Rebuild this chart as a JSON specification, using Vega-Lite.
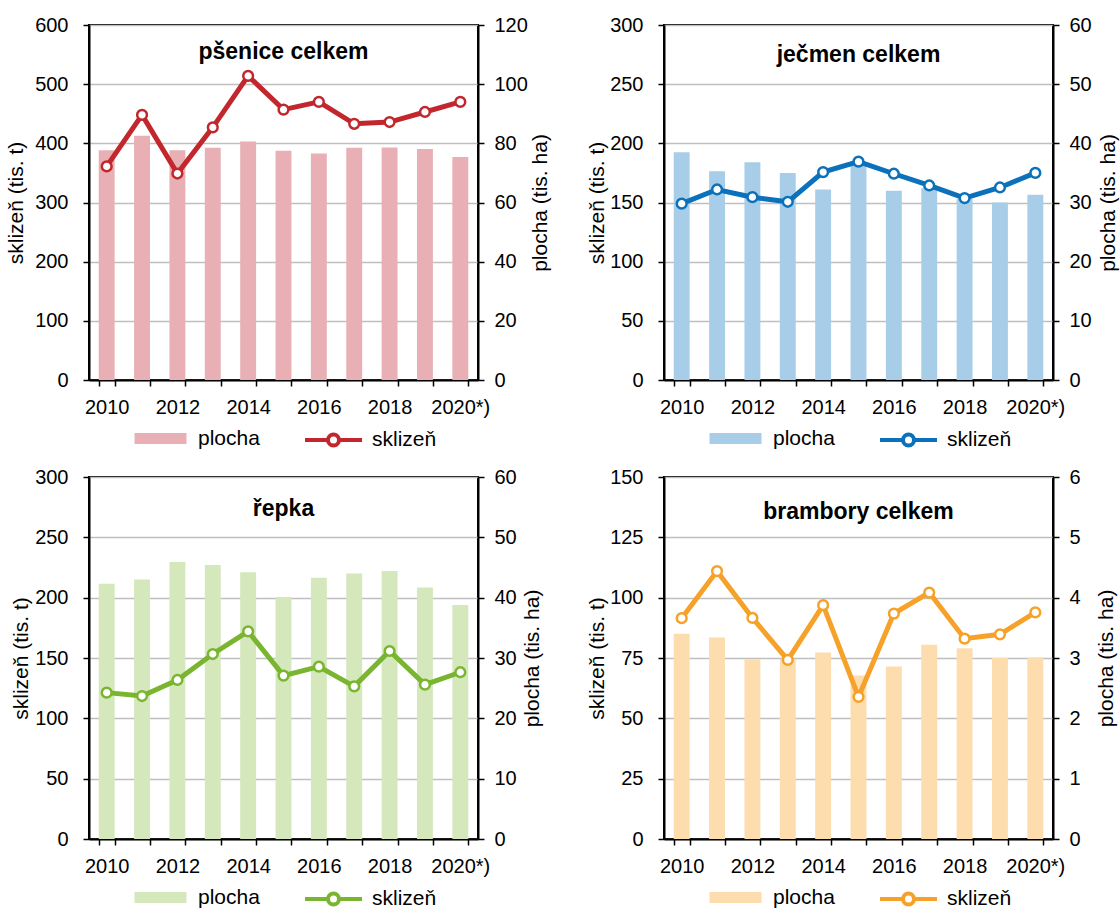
{
  "$schema": "https://vega.github.io/schema/vega-lite/v6.json",
  "padding": {"left": 4, "top": 14, "right": 0, "bottom": 0},
  "background": "white",
  "datasets": {
    "d": [
      {"crop": "pšenice", "rok": "2010", "plocha": 77.7, "sklizen": 361},
      {"crop": "pšenice", "rok": "2011", "plocha": 82.6, "sklizen": 448},
      {"crop": "pšenice", "rok": "2012", "plocha": 77.7, "sklizen": 349},
      {"crop": "pšenice", "rok": "2013", "plocha": 78.5, "sklizen": 427},
      {"crop": "pšenice", "rok": "2014", "plocha": 80.6, "sklizen": 514},
      {"crop": "pšenice", "rok": "2015", "plocha": 77.5, "sklizen": 457},
      {"crop": "pšenice", "rok": "2016", "plocha": 76.6, "sklizen": 470},
      {"crop": "pšenice", "rok": "2017", "plocha": 78.5, "sklizen": 433},
      {"crop": "pšenice", "rok": "2018", "plocha": 78.6, "sklizen": 436},
      {"crop": "pšenice", "rok": "2019", "plocha": 78.1, "sklizen": 453},
      {"crop": "pšenice", "rok": "2020*)", "plocha": 75.4, "sklizen": 470},
      {"crop": "ječmen", "rok": "2010", "plocha": 38.5, "sklizen": 149},
      {"crop": "ječmen", "rok": "2011", "plocha": 35.3, "sklizen": 161},
      {"crop": "ječmen", "rok": "2012", "plocha": 36.8, "sklizen": 154.5},
      {"crop": "ječmen", "rok": "2013", "plocha": 35.0, "sklizen": 150.6},
      {"crop": "ječmen", "rok": "2014", "plocha": 32.2, "sklizen": 175.7},
      {"crop": "ječmen", "rok": "2015", "plocha": 36.5, "sklizen": 184.5},
      {"crop": "ječmen", "rok": "2016", "plocha": 32.0, "sklizen": 174.3},
      {"crop": "ječmen", "rok": "2017", "plocha": 32.4, "sklizen": 164.4},
      {"crop": "ječmen", "rok": "2018", "plocha": 30.6, "sklizen": 153.7},
      {"crop": "ječmen", "rok": "2019", "plocha": 30.0, "sklizen": 162.7},
      {"crop": "ječmen", "rok": "2020*)", "plocha": 31.3, "sklizen": 175},
      {"crop": "řepka", "rok": "2010", "plocha": 42.3, "sklizen": 121.3},
      {"crop": "řepka", "rok": "2011", "plocha": 43.0, "sklizen": 118.5},
      {"crop": "řepka", "rok": "2012", "plocha": 45.9, "sklizen": 131.8},
      {"crop": "řepka", "rok": "2013", "plocha": 45.4, "sklizen": 153.3},
      {"crop": "řepka", "rok": "2014", "plocha": 44.2, "sklizen": 172.1},
      {"crop": "řepka", "rok": "2015", "plocha": 40.1, "sklizen": 135.4},
      {"crop": "řepka", "rok": "2016", "plocha": 43.3, "sklizen": 142.8},
      {"crop": "řepka", "rok": "2017", "plocha": 44.0, "sklizen": 126.5},
      {"crop": "řepka", "rok": "2018", "plocha": 44.4, "sklizen": 155.8},
      {"crop": "řepka", "rok": "2019", "plocha": 41.7, "sklizen": 127.9},
      {"crop": "řepka", "rok": "2020*)", "plocha": 38.8, "sklizen": 138.2},
      {"crop": "brambory", "rok": "2010", "plocha": 3.40, "sklizen": 91.5},
      {"crop": "brambory", "rok": "2011", "plocha": 3.34, "sklizen": 111.0},
      {"crop": "brambory", "rok": "2012", "plocha": 2.98, "sklizen": 91.6},
      {"crop": "brambory", "rok": "2013", "plocha": 2.98, "sklizen": 74.2},
      {"crop": "brambory", "rok": "2014", "plocha": 3.09, "sklizen": 96.9},
      {"crop": "brambory", "rok": "2015", "plocha": 2.71, "sklizen": 58.9},
      {"crop": "brambory", "rok": "2016", "plocha": 2.86, "sklizen": 93.4},
      {"crop": "brambory", "rok": "2017", "plocha": 3.22, "sklizen": 102.1},
      {"crop": "brambory", "rok": "2018", "plocha": 3.16, "sklizen": 83.0},
      {"crop": "brambory", "rok": "2019", "plocha": 3.00, "sklizen": 84.8},
      {"crop": "brambory", "rok": "2020*)", "plocha": 3.01, "sklizen": 93.9}
    ]
  },
  "data": {"name": "d"},
  "columns": 2,
  "bounds": "flush",
  "spacing": {"row": 97, "column": 186},
  "resolve": {
    "scale": {"fill": "independent", "stroke": "independent", "y": "independent"},
    "legend": {"fill": "independent", "stroke": "independent"}
  },
  "concat": [
    {
      "width": 389, "height": 355,
      "title": {"text": "pšenice celkem", "offset": -49},
      "transform": [{"filter": "datum.crop == 'pšenice'"}],
      "encoding": {"x": {"field": "rok", "type": "ordinal", "sort": null, "scale": {"paddingInner": 0.55, "paddingOuter": 0.275}}},
      "layer": [
        {
          "mark": {"type": "bar"},
          "encoding": {
            "y": {"field": "plocha", "type": "quantitative", "scale": {"domain": [0, 120], "nice": false}, "axis": {"orient": "right", "title": "plocha (tis. ha)", "values": [0, 20, 40, 60, 80, 100, 120], "grid": false, "titleAngle": 270, "titleBaseline": "top", "titlePadding": 2}},
            "fill": {"datum": "plocha", "type": "nominal", "scale": {"range": ["#e8b0b4"]}, "legend": {"title": null, "symbolType": "M3.5,-0.55H8.7V0.55H3.5Z", "symbolSize": 400, "labelOffset": 88, "symbolStrokeWidth": 0}}
          }
        },
        {
          "layer": [
            {
              "mark": {"type": "line", "strokeWidth": 5},
              "encoding": {
                "y": {"field": "sklizen", "type": "quantitative", "scale": {"domain": [0, 600], "nice": false}, "axis": {"orient": "left", "title": "sklizeň (tis. t)", "values": [0, 100, 200, 300, 400, 500, 600], "grid": true, "titlePadding": 8, "labelPadding": 15}},
                "stroke": {"datum": "sklizeň", "type": "nominal", "scale": {"range": ["#c1272d"]}, "legend": {"title": null, "symbolType": "M2.5,0H4.8M5.9,0H8.2M4.8,0A0.55,0.55,0,1,1,5.9,0A0.55,0.55,0,1,1,4.8,0", "symbolSize": 400, "labelOffset": 80, "encode": {"symbols": {"update": {"fill": {"value": "white"}, "strokeWidth": {"value": 4}}}}}}
              }
            },
            {
              "mark": {"type": "point", "filled": true, "fill": "white", "stroke": "#c1272d", "strokeWidth": 2.5, "size": 95, "opacity": 1},
              "encoding": {"y": {"field": "sklizen", "type": "quantitative"}}
            }
          ]
        }
      ],
      "resolve": {"scale": {"y": "independent"}}
    },
    {
      "width": 389, "height": 355,
      "title": {"text": "ječmen celkem", "offset": -52},
      "transform": [{"filter": "datum.crop == 'ječmen'"}],
      "encoding": {"x": {"field": "rok", "type": "ordinal", "sort": null, "scale": {"paddingInner": 0.55, "paddingOuter": 0.275}}},
      "layer": [
        {
          "mark": {"type": "bar"},
          "encoding": {
            "y": {"field": "plocha", "type": "quantitative", "scale": {"domain": [0, 60], "nice": false}, "axis": {"orient": "right", "title": "plocha (tis. ha)", "values": [0, 10, 20, 30, 40, 50, 60], "grid": false, "titleAngle": 270, "titleBaseline": "top", "titlePadding": 6}},
            "fill": {"datum": "plocha", "type": "nominal", "scale": {"range": ["#a8cde8"]}, "legend": {"title": null, "symbolType": "M3.5,-0.55H8.7V0.55H3.5Z", "symbolSize": 400, "labelOffset": 88, "symbolStrokeWidth": 0}}
          }
        },
        {
          "layer": [
            {
              "mark": {"type": "line", "strokeWidth": 5},
              "encoding": {
                "y": {"field": "sklizen", "type": "quantitative", "scale": {"domain": [0, 300], "nice": false}, "axis": {"orient": "left", "title": "sklizeň (tis. t)", "values": [0, 50, 100, 150, 200, 250, 300], "grid": true, "titlePadding": 2, "labelPadding": 15}},
                "stroke": {"datum": "sklizeň", "type": "nominal", "scale": {"range": ["#0b71bb"]}, "legend": {"title": null, "symbolType": "M2.5,0H4.8M5.9,0H8.2M4.8,0A0.55,0.55,0,1,1,5.9,0A0.55,0.55,0,1,1,4.8,0", "symbolSize": 400, "labelOffset": 80, "encode": {"symbols": {"update": {"fill": {"value": "white"}, "strokeWidth": {"value": 4}}}}}}
              }
            },
            {
              "mark": {"type": "point", "filled": true, "fill": "white", "stroke": "#0b71bb", "strokeWidth": 2.5, "size": 95, "opacity": 1},
              "encoding": {"y": {"field": "sklizen", "type": "quantitative"}}
            }
          ]
        }
      ],
      "resolve": {"scale": {"y": "independent"}}
    },
    {
      "width": 389, "height": 362,
      "title": {"text": "řepka", "offset": -54},
      "transform": [{"filter": "datum.crop == 'řepka'"}],
      "encoding": {"x": {"field": "rok", "type": "ordinal", "sort": null, "scale": {"paddingInner": 0.55, "paddingOuter": 0.275}}},
      "layer": [
        {
          "mark": {"type": "bar"},
          "encoding": {
            "y": {"field": "plocha", "type": "quantitative", "scale": {"domain": [0, 60], "nice": false}, "axis": {"orient": "right", "title": "plocha (tis. ha)", "values": [0, 10, 20, 30, 40, 50, 60], "grid": false, "titleAngle": 270, "titleBaseline": "top", "titlePadding": 5}},
            "fill": {"datum": "plocha", "type": "nominal", "scale": {"range": ["#d4e8bb"]}, "legend": {"title": null, "symbolType": "M3.5,-0.55H8.7V0.55H3.5Z", "symbolSize": 400, "labelOffset": 88, "symbolStrokeWidth": 0}}
          }
        },
        {
          "layer": [
            {
              "mark": {"type": "line", "strokeWidth": 5},
              "encoding": {
                "y": {"field": "sklizen", "type": "quantitative", "scale": {"domain": [0, 300], "nice": false}, "axis": {"orient": "left", "title": "sklizeň (tis. t)", "values": [0, 50, 100, 150, 200, 250, 300], "grid": true, "titlePadding": 3, "labelPadding": 15}},
                "stroke": {"datum": "sklizeň", "type": "nominal", "scale": {"range": ["#7ab530"]}, "legend": {"title": null, "symbolType": "M2.5,0H4.8M5.9,0H8.2M4.8,0A0.55,0.55,0,1,1,5.9,0A0.55,0.55,0,1,1,4.8,0", "symbolSize": 400, "labelOffset": 80, "encode": {"symbols": {"update": {"fill": {"value": "white"}, "strokeWidth": {"value": 4}}}}}}
              }
            },
            {
              "mark": {"type": "point", "filled": true, "fill": "white", "stroke": "#7ab530", "strokeWidth": 2.5, "size": 95, "opacity": 1},
              "encoding": {"y": {"field": "sklizen", "type": "quantitative"}}
            }
          ]
        }
      ],
      "resolve": {"scale": {"y": "independent"}}
    },
    {
      "width": 389, "height": 362,
      "title": {"text": "brambory celkem", "offset": -57},
      "transform": [{"filter": "datum.crop == 'brambory'"}],
      "encoding": {"x": {"field": "rok", "type": "ordinal", "sort": null, "scale": {"paddingInner": 0.55, "paddingOuter": 0.275}}},
      "layer": [
        {
          "mark": {"type": "bar"},
          "encoding": {
            "y": {"field": "plocha", "type": "quantitative", "scale": {"domain": [0, 6], "nice": false}, "axis": {"orient": "right", "title": "plocha (tis. ha)", "values": [0, 1, 2, 3, 4, 5, 6], "grid": false, "titleAngle": 270, "titleBaseline": "top", "titlePadding": 15}},
            "fill": {"datum": "plocha", "type": "nominal", "scale": {"range": ["#fddcae"]}, "legend": {"title": null, "symbolType": "M3.5,-0.55H8.7V0.55H3.5Z", "symbolSize": 400, "labelOffset": 88, "symbolStrokeWidth": 0}}
          }
        },
        {
          "layer": [
            {
              "mark": {"type": "line", "strokeWidth": 5},
              "encoding": {
                "y": {"field": "sklizen", "type": "quantitative", "scale": {"domain": [0, 150], "nice": false}, "axis": {"orient": "left", "title": "sklizeň (tis. t)", "values": [0, 25, 50, 75, 100, 125, 150], "grid": true, "titlePadding": 2, "labelPadding": 15}},
                "stroke": {"datum": "sklizeň", "type": "nominal", "scale": {"range": ["#f6a22a"]}, "legend": {"title": null, "symbolType": "M2.5,0H4.8M5.9,0H8.2M4.8,0A0.55,0.55,0,1,1,5.9,0A0.55,0.55,0,1,1,4.8,0", "symbolSize": 400, "labelOffset": 80, "encode": {"symbols": {"update": {"fill": {"value": "white"}, "strokeWidth": {"value": 4}}}}}}
              }
            },
            {
              "mark": {"type": "point", "filled": true, "fill": "white", "stroke": "#f6a22a", "strokeWidth": 2.5, "size": 95, "opacity": 1},
              "encoding": {"y": {"field": "sklizen", "type": "quantitative"}}
            }
          ]
        }
      ],
      "resolve": {"scale": {"y": "independent"}}
    }
  ],
  "config": {
    "font": "Liberation Sans",
    "view": {"stroke": "black", "strokeWidth": 2},
    "title": {"fontSize": 23, "fontWeight": "bold", "color": "black", "anchor": "middle"},
    "axis": {
      "labelFontSize": 20, "labelColor": "black", "labelFont": "Liberation Sans",
      "titleFontSize": 21, "titleFontWeight": "normal", "titleColor": "black", "titleFont": "Liberation Sans",
      "domainColor": "black", "domainWidth": 2,
      "tickColor": "black", "tickWidth": 1.5, "tickSize": 6,
      "gridColor": "#bfbfbf", "gridWidth": 1.3,
      "labelPadding": 10
    },
    "axisX": {
      "title": null, "labelAngle": 0, "tickBand": "extent", "grid": false,
      "labelExpr": "indexof(['2010','2012','2014','2016','2018','2020*)'], datum.value) >= 0 ? datum.label : ''",
      "labelOverlap": false, "labelBound": false, "labelPadding": 11
    },
    "legend": {
      "orient": "bottom", "direction": "horizontal",
      "labelFontSize": 21, "labelColor": "black", "labelFont": "Liberation Sans",
      "offset": 11
    }
  }
}
